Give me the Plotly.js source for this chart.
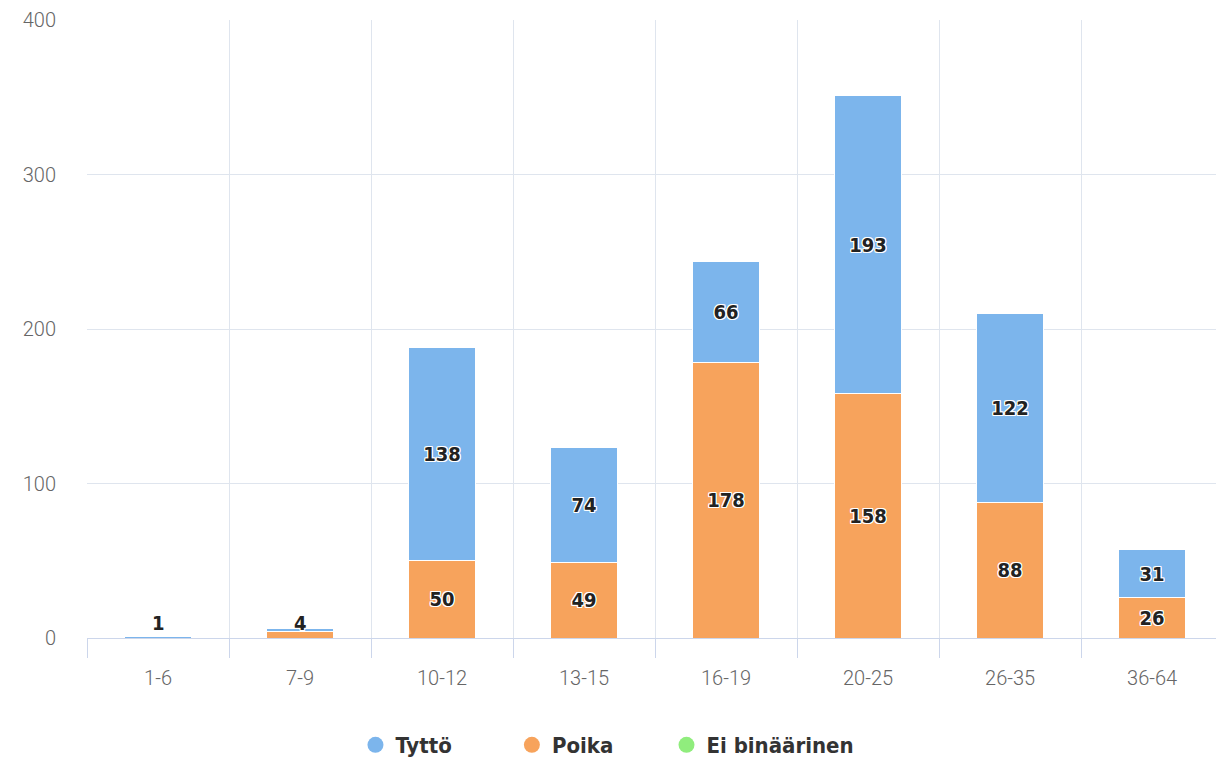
<!DOCTYPE html>
<html>
<head>
<meta charset="utf-8">
<script src="https://cdn.plot.ly/plotly-3.0.1.min.js"></script>
<style>html,body{margin:0;padding:0;background:#fff;}#chart{width:1216px;height:766px;}</style>
</head>
<body>
<div id="chart"></div>
<script>
const categories = ["1-6", "7-9", "10-12", "13-15", "16-19", "20-25", "26-35", "36-64"];
const tytto = [1, 2, 138, 74, 66, 193, 122, 31];
const poika = [0, 4, 50, 49, 178, 158, 88, 26];
const eiBinaarinen = [0, 0, 0, 0, 0, 0, 0, 0];
const seriesNames = ["Tyttö", "Poika", "Ei binäärinen"];
const colors = ["#7cb5ec", "#f7a35c", "#90ed7d"];

const xs = categories.map((c, i) => i);
const labelFont = {family: "DejaVu Sans Condensed", size: 20, weight: 700, color: "#222",
  shadow: "1px 1px 0 #fff, -1px -1px 0 #fff, 1px -1px 0 #fff, -1px 1px 0 #fff, 0 1px 0 #fff, 0 -1px 0 #fff, 1px 0 0 #fff, -1px 0 0 #fff"};
const lbl = v => (v >= 10 ? String(v) : "");

function barTrace(vals, idx, lw) {
  return {
    type: "bar", x: xs, y: vals, name: seriesNames[idx], showlegend: false,
    width: 0.47,
    marker: {color: colors[idx], line: {color: "#fff", width: lw}},
    text: vals.map(lbl), textposition: "inside", insidetextanchor: "middle",
    constraintext: "none", textangle: 0, textfont: labelFont,
    hoverinfo: "x+y+name"
  };
}

const traces = [
  barTrace(poika, 1, 1),
  barTrace(tytto, 0, 1),
  barTrace(eiBinaarinen, 2, 0)
];
const pad = ["\u00a0\u00a0\u00a0\u00a0\u00a0\u00a0\u00a0\u00a0", "\u00a0\u00a0\u00a0\u00a0\u00a0\u00a0\u00a0", ""];
seriesNames.forEach((n, i) => {
  traces.push({type: "scatter", mode: "markers", x: [null], y: [null], name: n + pad[i],
    marker: {color: colors[i], size: 24, symbol: "circle"}, showlegend: true});
});

const annotations = [];
xs.forEach(i => {
  const total = tytto[i] + poika[i] + eiBinaarinen[i];
  if (total > 0 && total < 10) {
    annotations.push({x: i, y: 0, yanchor: "bottom", showarrow: false, yshift: 1,
      text: String(Math.max(tytto[i], poika[i], eiBinaarinen[i])), font: labelFont});
  }
});

const gridColor = "#dfe5ee";
const layout = {
  width: 1216, height: 766,
  margin: {l: 87, r: 0, t: 20, b: 127},
  paper_bgcolor: "#fff", plot_bgcolor: "#fff",
  barmode: "stack",
  showlegend: true,
  legend: {orientation: "h", x: 0.461, xanchor: "center", y: -0.174, yanchor: "middle",
    font: {family: "DejaVu Sans Condensed", size: 22, weight: 700, color: "#333"},
    itemsizing: "trace", itemwidth: 30, traceorder: "normal"},
  xaxis: {
    range: [-0.5, 7.45], tickmode: "array", tickvals: xs, ticktext: categories,
    showgrid: false, zeroline: false, ticks: "", showline: true, linecolor: "#ccd6eb", linewidth: 1,
    tickfont: {family: "Roboto", size: 20, weight: 300, color: "#666"},
    ticklabelstandoff: 22,
    minor: {tick0: -0.5, dtick: 1, showgrid: true, gridcolor: gridColor, gridwidth: 1,
      ticks: "outside", ticklen: 19, tickwidth: 1, tickcolor: "#ccd6eb"},
    fixedrange: true
  },
  yaxis: {
    range: [0, 400], tickvals: [0, 100, 200, 300, 400], showgrid: true, gridcolor: gridColor,
    gridwidth: 1, zeroline: false, showline: false, ticks: "",
    tickfont: {family: "Roboto", size: 20, weight: 300, color: "#666"},
    ticklabelstandoff: 30, fixedrange: true
  },
  annotations: annotations
};

Plotly.newPlot("chart", traces, layout, {displayModeBar: false, staticPlot: true});
</script>
</body>
</html>
